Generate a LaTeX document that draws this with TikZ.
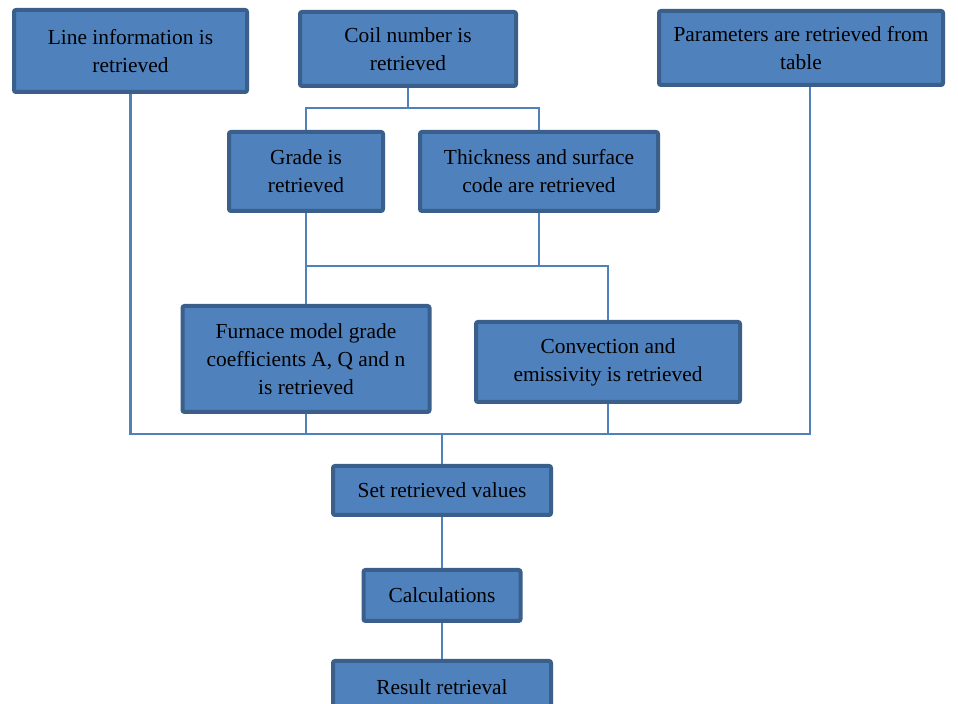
\documentclass[tikz,border=0pt]{standalone}
\usepackage{fontspec}
\setmainfont{Liberation Serif}
\usepackage{tikz}
\usetikzlibrary{positioning}
\definecolor{boxfill}{HTML}{4F81BD}
\definecolor{boxedge}{HTML}{3A5F8B}
\definecolor{linkblue}{HTML}{4F81BD}

\begin{document}
\begin{tikzpicture}[
  x=0.5pt, y=-0.5pt,
  stepbox/.style={draw=boxedge, line width=2pt, fill=boxfill, rounded corners=1pt,
                  align=center, inner sep=1pt,
                  font=\fontsize{10.7pt}{14pt}\selectfont},
  conn/.style={draw=linkblue, line width=1.1pt}
]
\clip (0,0) rectangle (958,704);
% ---------------- top row ----------------
\node[stepbox, minimum width=116.5pt, minimum height=41pt] (line) at (130.5,51)
  {Line information is\\retrieved};
\node[stepbox, minimum width=108pt, minimum height=37pt] (coil) at (408,49)
  {Coil number is\\retrieved};
\node[stepbox, minimum width=142pt, minimum height=37pt] (param) at (801,48)
  {Parameters are retrieved from\\table};
% ---------------- second row ----------------
\node[stepbox, minimum width=77pt, minimum height=39.5pt] (grade) at (306,171.5)
  {Grade is\\retrieved};
\node[stepbox, minimum width=119pt, minimum height=39.5pt] (thick) at (539,171.5)
  {Thickness and surface\\code are retrieved};
% ---------------- third row ----------------
\node[stepbox, minimum width=123.5pt, minimum height=53pt] (furnace) at (306,359)
  {Furnace model grade\\coefficients A, Q and n\\is retrieved};
\node[stepbox, minimum width=132pt, minimum height=40pt] (conv) at (608,362)
  {Convection and\\emissivity is retrieved};
% ---------------- bottom column ----------------
\node[stepbox, minimum width=109pt, minimum height=24.5pt] (setv) at (442,490.5)
  {Set retrieved values};
\node[stepbox, minimum width=78.5pt, minimum height=25.5pt] (calc) at (442,595.5)
  {Calculations};
\node[stepbox, minimum width=109pt, minimum height=26pt, anchor=north, text depth=0pt,
      yshift=-1pt] (result) at (442,657)
  {\raisebox{-0.5pt}{Result retrieval}};
% ---------------- junctions ----------------
\coordinate (jcoil) at (408,108);
\coordinate (jmid) at (539,266);
\coordinate (jlow) at (442,434);
% ---------------- connectors ----------------
\draw[conn] (coil.south) -- (jcoil);
\draw[conn] (jcoil) -| (grade.north);
\draw[conn] (jcoil) -| (thick.north);
\draw[conn] (grade.south) |- (jmid);
\draw[conn] (thick.south) -- (jmid);
\draw[conn] (jmid) -| (conv.north);
\draw[conn] (grade.south) -- (furnace.north);
\draw[conn] (line.south) |- (jlow);
\draw[conn] ([xshift=4.5pt]param.south) |- (jlow);
\draw[conn] (furnace.south) -- (furnace.south |- jlow);
\draw[conn] (conv.south) -- (conv.south |- jlow);
\draw[conn] (jlow) -- (setv.north);
\draw[conn] (setv) -- (calc);
\draw[conn] (calc) -- (result);
\end{tikzpicture}
\end{document}
